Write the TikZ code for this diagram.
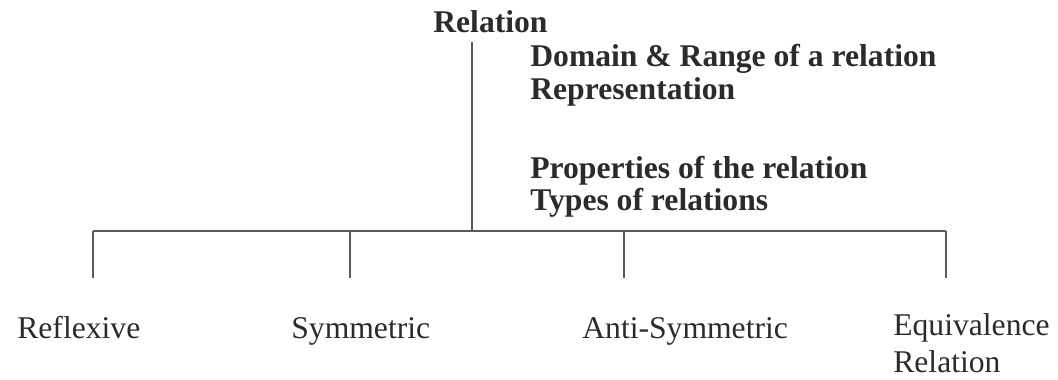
\documentclass[tikz,border=0pt]{standalone}
\usepackage{fontspec}
\setmainfont{Liberation Serif}
\usepackage{tikz}
\usetikzlibrary{positioning}
\definecolor{ink}{HTML}{2B2B2B}
\definecolor{rulegray}{HTML}{5A5A5A}

\begin{document}
\begin{tikzpicture}[x=0.02cm, y=-0.02cm,
    head/.style={anchor=base west, inner sep=0pt, text=ink,
      font=\fontsize{18}{23.8}\selectfont\bfseries},
    leaf/.style={anchor=base west, inner sep=0pt, text=ink, align=left,
      font=\fontsize{18}{21}\selectfont},
    link/.style={draw=rulegray, line width=1pt}]
    \useasboundingbox (0,0) rectangle (1058,379);
    \node[head] (rel) at (433,32) {Relation};
    \node[head] (dom) at (530,66) {Domain \& Range of a relation};
    \node[head] (rep) at (530,99) {Representation};
    \node[head] (prop) at (530,178) {Properties of the relation};
    \node[head] (typ) at (530,210) {Types of relations};
    \coordinate (top) at (472,42);
    \coordinate (hub) at (472,231);
    \coordinate (b1) at (93,231);
    \coordinate (b2) at (350,231);
    \coordinate (b3) at (624,231);
    \coordinate (b4) at (946,231);
    \coordinate (e1) at (93,278);
    \coordinate (e2) at (350,278);
    \coordinate (e3) at (624,278);
    \coordinate (e4) at (946,278);
    \node[leaf] (refl) at (17,338) {Reflexive};
    \node[leaf] (sym) at (291,338) {Symmetric};
    \node[leaf] (anti) at (582,338) {Anti-Symmetric};
    \node[leaf] (equiv) at (893,372) {Equivalence\\Relation};
    \draw[link] (top) -- (hub);
    \draw[link] (b1) -- (b4);
    \draw[link] (b1) -- (e1);
    \draw[link] (b2) -- (e2);
    \draw[link] (b3) -- (e3);
    \draw[link] (b4) -- (e4);
\end{tikzpicture}
\end{document}
